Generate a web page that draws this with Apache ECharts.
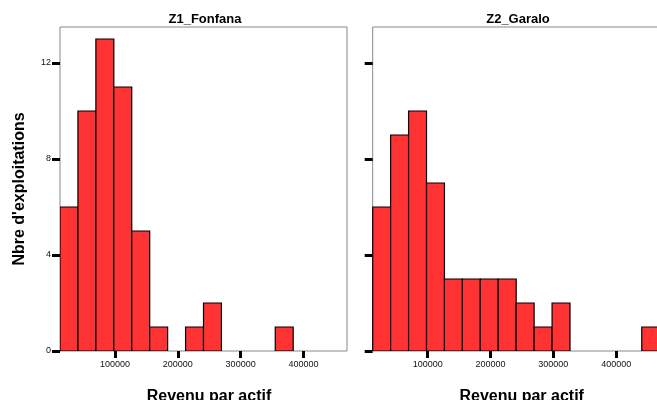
<!DOCTYPE html>
<html>
<head>
<meta charset="utf-8">
<script src="https://cdn.jsdelivr.net/npm/echarts@6/dist/echarts.min.js"></script>
<style>
  html, body { margin: 0; padding: 0; background: #fff; }
  #chart { width: 657px; height: 400px; }
</style>
</head>
<body>
<div id="chart"></div>
<script>
// Histogram bin edges (revenue per worker), shared by both zones
const binEdges = [12500, 41050, 69600, 98150, 126700, 155250, 183800, 212350,
                  240900, 269450, 298000, 326550, 355100, 383650, 412200, 440750, 469300];
// Number of farms per bin
const countsFonfana = [6, 10, 13, 11, 5, 1, 0, 1, 2, 0, 0, 0, 1, 0, 0, 0];
const countsGaralo  = [6, 9, 10, 7, 3, 3, 3, 3, 2, 1, 2, 0, 0, 0, 0, 1];
const panelTitles = ['Z1_Fonfana', 'Z2_Garalo'];
const xTickValues = [100000, 200000, 300000, 400000];
const yTickValues = [0, 4, 8, 12];
const xTitle = 'Revenu par actif';
const yTitle = "Nbre d'exploitations";

const FONT = 'Liberation Sans';

function toBins(counts) {
  const out = [];
  counts.forEach((c, i) => {
    if (c > 0) out.push([binEdges[i], binEdges[i + 1], c]);
  });
  return out;
}

function renderBin(params, api) {
  const p0 = api.coord([api.value(0), 0]);
  const p1 = api.coord([api.value(1), api.value(2)]);
  return {
    type: 'rect',
    shape: { x: p0[0], y: p1[1], width: p1[0] - p0[0], height: p0[1] - p1[1] },
    style: { fill: '#ff3333', stroke: '#000', lineWidth: 1.2 }
  };
}

const grids = [
  { left: 60, top: 27, width: 287, height: 324 },
  { left: 372.7, top: 27, width: 287, height: 324 }
];

const chart = echarts.init(document.getElementById('chart'), null, { renderer: 'canvas' });

chart.setOption({
  animation: false,
  backgroundColor: '#fff',
  textStyle: { fontFamily: FONT },
  title: [
    { text: panelTitles[0], left: 205, top: 13, textAlign: 'center', padding: 0,
      textStyle: { fontFamily: FONT, fontSize: 13, fontWeight: 'bold', color: '#000' } },
    { text: panelTitles[1], left: 518, top: 13, textAlign: 'center', padding: 0,
      textStyle: { fontFamily: FONT, fontSize: 13, fontWeight: 'bold', color: '#000' } }
  ],
  grid: grids.map(g => Object.assign({
    show: true, borderColor: '#888', borderWidth: 1, backgroundColor: '#fff',
    containLabel: false, outerBoundsMode: 'none'
  }, g)),
  xAxis: [0, 1].map(i => ({
    type: 'value',
    gridIndex: i,
    min: binEdges[0],
    max: binEdges[binEdges.length - 1],
    splitLine: { show: false },
    axisLine: { show: false },
    axisTick: { show: true, length: 7, customValues: xTickValues,
                lineStyle: { color: '#000', width: 3 } },
    axisLabel: { customValues: xTickValues, margin: 9, fontSize: 9, color: '#111',
                 fontFamily: FONT, formatter: v => String(v) },
    name: xTitle,
    nameLocation: 'middle',
    nameGap: 38,
    nameTextStyle: { fontFamily: FONT, fontSize: 16, fontWeight: 'bold', color: '#000',
                     padding: [0, 0, 0, 11] }
  })),
  yAxis: [0, 1].map(i => ({
    type: 'value',
    gridIndex: i,
    min: 0,
    max: 13.5,
    splitLine: { show: false },
    axisLine: { show: false },
    axisTick: { show: true, length: 8, customValues: yTickValues,
                lineStyle: { color: '#000', width: 3 } },
    axisLabel: { show: i === 0, customValues: yTickValues, margin: 9, fontSize: 9,
                 color: '#111', fontFamily: FONT },
    name: i === 0 ? yTitle : '',
    nameLocation: 'middle',
    nameGap: 32,
    nameRotate: 90,
    nameTextStyle: { fontFamily: FONT, fontSize: 16, fontWeight: 'bold', color: '#000' }
  })),
  series: [
    { type: 'custom', xAxisIndex: 0, yAxisIndex: 0, renderItem: renderBin,
      encode: { x: [0, 1], y: 2 }, data: toBins(countsFonfana), clip: true },
    { type: 'custom', xAxisIndex: 1, yAxisIndex: 1, renderItem: renderBin,
      encode: { x: [0, 1], y: 2 }, data: toBins(countsGaralo), clip: true }
  ]
});
</script>
</body>
</html>
